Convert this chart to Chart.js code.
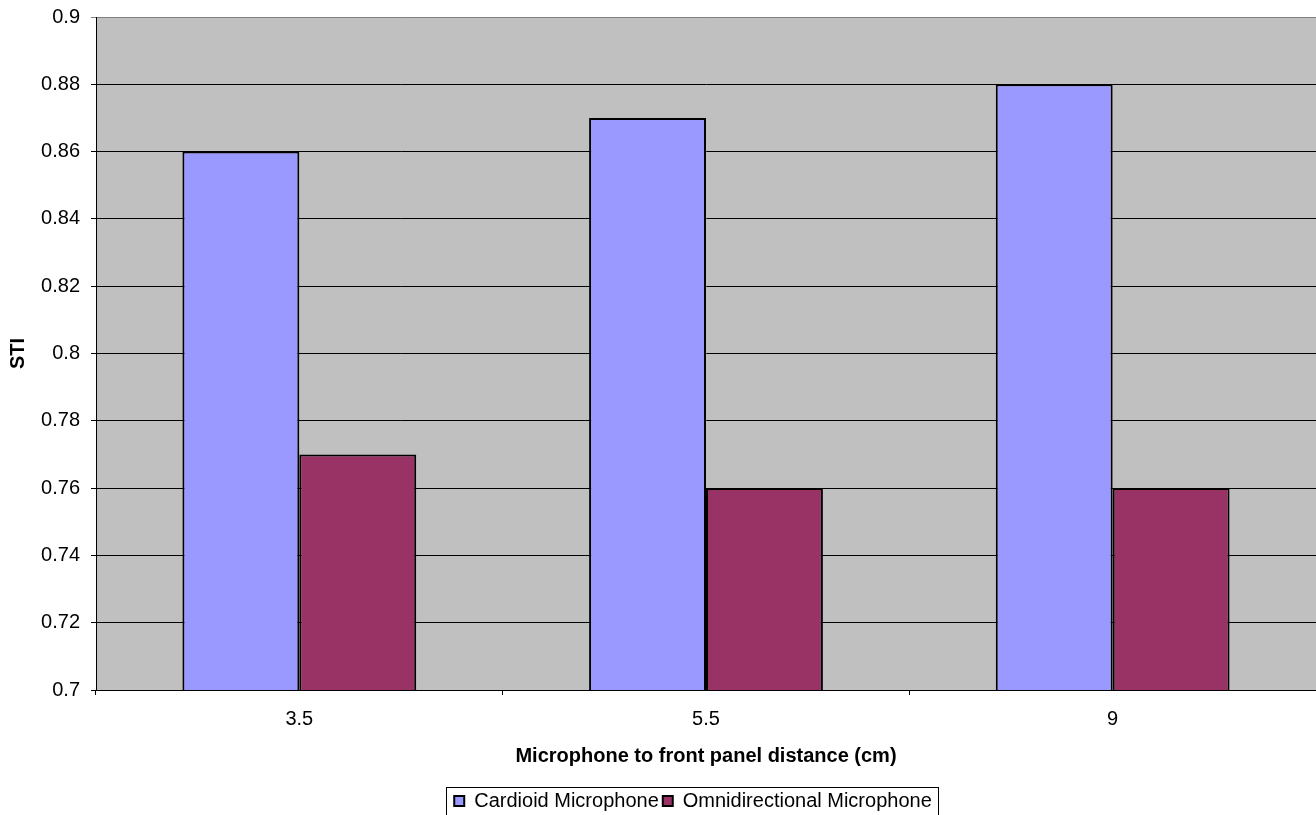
<!DOCTYPE html>
<html>
<head>
<meta charset="utf-8">
<script src="https://cdn.jsdelivr.net/npm/chart.js@4/dist/chart.umd.min.js"></script>
<style>
html,body{margin:0;padding:0;background:#fff;}
#wrap{width:1316px;height:815px;position:relative;}
</style>
</head>
<body>
<div id="wrap"><canvas id="c" width="1316" height="815"></canvas></div>
<script>
const categories = ['3.5', '5.5', '9'];
const cardioid = [0.86, 0.87, 0.88];
const omni = [0.77, 0.76, 0.76];
const seriesNames = ['Cardioid Microphone', 'Omnidirectional Microphone'];
const yMin = 0.7, yMax = 0.9, yStep = 0.02;
const yTitle = 'STI';
const xTitle = 'Microphone to front panel distance (cm)';

const FONT = "'Liberation Sans', Arial, sans-serif";

const plotBg = {
  id: 'plotBg',
  beforeDraw(chart) {
    const {ctx, chartArea: a} = chart;
    ctx.save();
    ctx.fillStyle = '#C0C0C0';
    ctx.fillRect(a.left, a.top, a.right - a.left, a.bottom - a.top);
    ctx.restore();
  }
};
const legendBox = {
  id: 'legendBox',
  afterLayout(chart) {
    const lg = chart.legend;
    if (lg) { lg.left += 35; lg.right += 35; }
  },
  afterDraw(chart) {
    const lg = chart.legend;
    if (!lg || !lg.legendHitBoxes || !lg.legendHitBoxes.length) return;
    const hb = lg.legendHitBoxes;
    let l = Infinity, r = -Infinity, t = Infinity, b = -Infinity;
    hb.forEach(h => { l = Math.min(l, h.left); r = Math.max(r, h.left + h.width); t = Math.min(t, h.top); b = Math.max(b, h.top + h.height); });
    const ctx = chart.ctx;
    ctx.save();
    ctx.strokeStyle = '#000';
    ctx.lineWidth = 1;
    ctx.strokeRect(Math.round(l - 8) + 0.5, Math.round((t + b) / 2 - 14) + 0.5, Math.round(r - l + 14), 40);
    ctx.restore();
  }
};

new Chart(document.getElementById('c'), {
  type: 'bar',
  data: {
    labels: categories,
    datasets: [
      { label: seriesNames[0], data: cardioid, backgroundColor: '#9999FF', borderColor: '#000', borderWidth: 2, categoryPercentage: 0.575, barPercentage: 1 },
      { label: seriesNames[1], data: omni, backgroundColor: '#993366', borderColor: '#000', borderWidth: 2, categoryPercentage: 0.575, barPercentage: 1 }
    ]
  },
  options: {
    responsive: false,
    animation: false,
    layout: { padding: { top: 17, right: 0, left: 0, bottom: -6 } },
    plugins: {
      tooltip: { enabled: false },
      legend: {
        position: 'bottom',
        labels: {
          boxWidth: 10, boxHeight: 10, padding: 4, color: '#000',
          font: { family: FONT, size: 20 }
        }
      }
    },
    scales: {
      x: {
        offset: true,
        grid: { offset: true, drawOnChartArea: false, drawTicks: true, tickLength: 5, color: '#000' },
        border: { color: '#000', width: 1 },
        ticks: { color: '#000', padding: 12, font: { family: FONT, size: 20 }, maxRotation: 0 },
        title: { display: true, text: xTitle, color: '#000', font: { family: FONT, size: 20, weight: 'bold' }, padding: { top: 0, bottom: 19 } },
        afterFit(s) { s.height = 97; s.paddingLeft = 0; s.paddingRight = 0; }
      },
      y: {
        min: yMin, max: yMax,
        grid: { color: c => (c.tick && Math.abs(c.tick.value - yMax) < 1e-9) ? '#808080' : '#000', tickLength: 5, drawTicks: true },
        border: { color: '#000', width: 1 },
        ticks: { stepSize: yStep, color: '#000', padding: 11, font: { family: FONT, size: 20 }, callback: v => String(+(+v).toFixed(2)) },
        title: { display: true, text: yTitle, color: '#000', font: { family: FONT, size: 20, weight: 'bold' }, padding: { top: 6, bottom: 0 } },
        afterFit(s) { s.width = 96; s.paddingTop = 0; s.paddingBottom = 0; }
      }
    }
  },
  plugins: [plotBg, legendBox]
});
</script>
</body>
</html>
